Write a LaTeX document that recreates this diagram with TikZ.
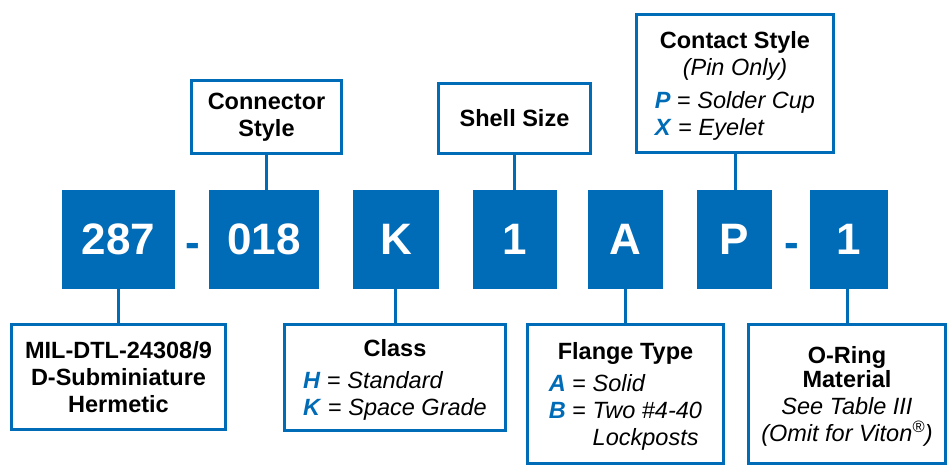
\documentclass[tikz,border=0pt]{standalone}
\usepackage{fontspec}
\setmainfont{Liberation Sans}
\definecolor{partblue}{HTML}{006BB6}
\newcommand{\code}[1]{\textcolor{partblue}{\textbf{\textit{#1}}}}
% drop the strut depth under a tabular so the text sits centred
\newcommand{\lowtab}[1]{\raisebox{0pt}[\height][\dimexpr\depth-9pt\relax]{#1}}

\begin{document}
\begin{tikzpicture}[x = 1pt, y = -1pt,
  part/.style = {fill = partblue, text = white, inner sep = 0pt,
    font = \fontsize{44}{50}\selectfont\bfseries},
  sep/.style = {text = partblue, inner sep = 0pt, anchor = base,
    font = \fontsize{44}{50}\selectfont\bfseries},
  field/.style = {draw = partblue, line width = 3.2pt, fill = white,
    inner sep = 0pt, align = center, font = \fontsize{23.5}{27}\selectfont},
  link/.style = {draw = partblue, line width = 3pt}]
  \useasboundingbox[fill = white] (0,0) rectangle (948,466);

  \node[part, minimum width = 113pt, minimum height = 99pt] (p287) at (118.5,239.5) {287};
  \node[sep] (dash1) at (193.3,257) {-};
  \node[part, minimum width = 110pt, minimum height = 99pt] (p018) at (264,239.5) {018};
  \node[part, minimum width = 86pt, minimum height = 99pt] (pK) at (396,239.5) {K};
  \node[part, minimum width = 84pt, minimum height = 99pt] (p1) at (515,239.5) {1};
  \node[part, minimum width = 75pt, minimum height = 99pt] (pA) at (625.5,239.5) {A};
  \node[part, minimum width = 75pt, minimum height = 99pt] (pP) at (734.5,239.5) {P};
  \node[sep] (dash2) at (792.2,257) {-};
  \node[part, minimum width = 78pt, minimum height = 99pt] (p1b) at (849,239.5) {1};

  \node[field, minimum width = 149.8pt, minimum height = 72.8pt] (fConn) at (266.5,117)
    {\textbf{Connector}\\\textbf{Style}};
  \node[field, minimum width = 151.8pt, minimum height = 69.8pt] (fShell) at (514.5,118.5)
    {\textbf{Shell Size}};
  \node[field, minimum width = 196.8pt, minimum height = 137.8pt] (fContact) at (735,83.5)
    {\textbf{Contact Style}\\\textit{(Pin Only)}\\[6pt]
     \lowtab{\begin{tabular}[t]{@{}l@{}}
       \code{P} = \textit{Solder Cup}\\
       \code{X} = \textit{Eyelet}
     \end{tabular}}};

  \node[field, minimum width = 213.8pt, minimum height = 104.8pt] (fMil) at (118.5,377)
    {\textbf{MIL-DTL-24308/9}\\\textbf{D-Subminiature}\\\textbf{Hermetic}};
  \node[field, minimum width = 220.8pt, minimum height = 105.8pt] (fClass) at (395,377.5)
    {\textbf{Class}\\[5pt]
     \lowtab{\begin{tabular}[t]{@{}l@{}}
       \code{H} = \textit{Standard}\\
       \code{K} = \textit{Space Grade}
     \end{tabular}}};
  \node[field, minimum width = 195.8pt, minimum height = 138.8pt] (fFlange) at (625.5,394)
    {\textbf{Flange Type}\\[5pt]
     \lowtab{\begin{tabular}[t]{@{}l@{\ }l@{}}
       \code{A} = & \textit{Solid}\\
       \code{B} = & \textit{Two \#4-40}\\
                  & \textit{Lockposts}
     \end{tabular}}};
  \node[field, minimum width = 196.8pt, minimum height = 138.8pt] (fOring) at (847,394)
    {\textbf{O-Ring}\\[-2.5pt]\textbf{Material}\\\textit{See Table III}\\
     \raisebox{0pt}[\height][0pt]{\textit{(Omit for Viton\textsuperscript{\textregistered})}}};

  \draw[link] (fMil.north |- p287.south) -- (fMil.north);
  \draw[link] (fConn.south) -- (fConn.south |- p018.north);
  \draw[link] (fClass.north |- pK.south) -- (fClass.north);
  \draw[link] (fShell.south) -- (fShell.south |- p1.north);
  \draw[link] (fFlange.north |- pA.south) -- (fFlange.north);
  \draw[link] (fContact.south) -- (fContact.south |- pP.north);
  \draw[link] (fOring.north |- p1b.south) -- (fOring.north);
\end{tikzpicture}
\end{document}
